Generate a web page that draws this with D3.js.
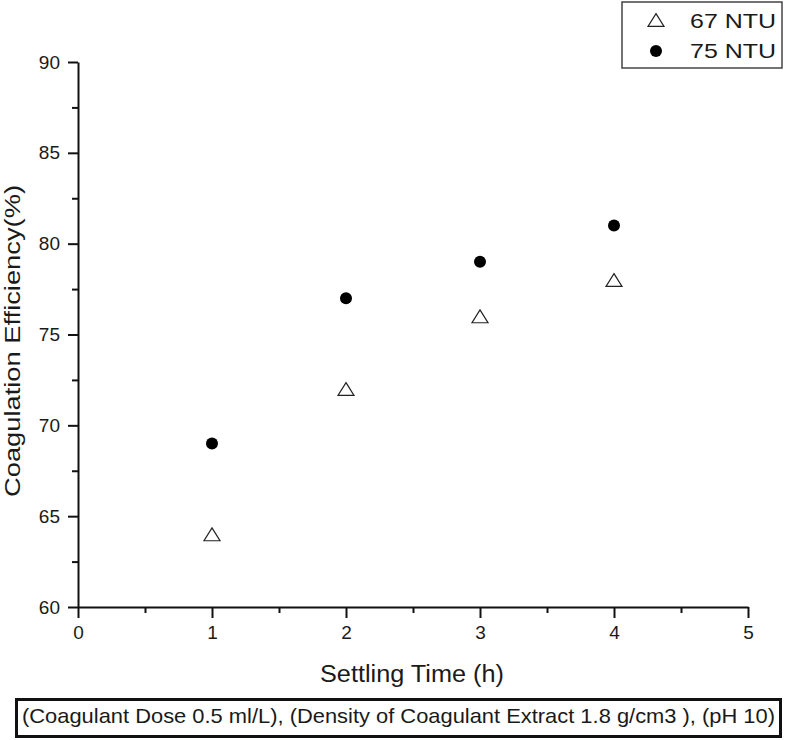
<!DOCTYPE html>
<html>
<head>
<meta charset="utf-8">
<script src="https://cdn.jsdelivr.net/npm/d3@7"></script>
<style>
  body { margin: 0; background: #fff; }
  text { font-family: "Liberation Sans", Arial, sans-serif; fill: #1a1a1a; }
</style>
</head>
<body>
<svg id="chart" width="787" height="740"></svg>
<script>
// data
const settlingTime = [1, 2, 3, 4];
const ntu67 = [64, 72, 76, 78];
const ntu75 = [69, 77, 79, 81];
const xTicks = [0, 1, 2, 3, 4, 5];
const yTicks = [60, 65, 70, 75, 80, 85, 90];
const seriesNames = ["67 NTU", "75 NTU"];

const svg = d3.select("#chart");
const W = 787, H = 740;

const x = d3.scaleLinear().domain([0, 5]).range([78, 748]);
const y = d3.scaleLinear().domain([60, 90]).range([607, 62]);

// minor ticks at the half steps
const xMinor = d3.range(0.5, 5, 1);
const yMinor = d3.range(62.5, 90, 5);

const gx = svg.append("g").attr("transform", `translate(0,${y(60)})`);
gx.append("g").call(d3.axisBottom(x).tickValues(xMinor).tickSize(6).tickFormat(""))
  .call(g => g.select(".domain").remove());
gx.append("g").call(d3.axisBottom(x).tickValues(xTicks).tickSize(11).tickSizeOuter(0)
  .tickPadding(8).tickFormat(d3.format("d")));

const gy = svg.append("g").attr("transform", `translate(${x(0)},0)`);
gy.append("g").call(d3.axisLeft(y).tickValues(yMinor).tickSize(6).tickFormat(""))
  .call(g => g.select(".domain").remove());
gy.append("g").call(d3.axisLeft(y).tickValues(yTicks).tickSize(10).tickSizeOuter(0)
  .tickPadding(8).tickFormat(d3.format("d")));

svg.selectAll(".domain, .tick line").attr("stroke", "#111").attr("stroke-width", 2);
svg.selectAll(".tick text").style("font-size", "19px");

// axis titles
svg.append("text")
  .attr("x", 320).attr("y", 682)
  .attr("textLength", 184).attr("lengthAdjust", "spacingAndGlyphs")
  .style("font-size", "23px")
  .text("Settling Time (h)");

svg.append("text")
  .attr("transform", "translate(20,341) rotate(-90)")
  .attr("x", -156)
  .attr("textLength", 312).attr("lengthAdjust", "spacingAndGlyphs")
  .style("font-size", "22px")
  .text("Coagulation Efficiency(%)");

// open triangle, bbox centred on the point
const triangle = {
  draw(ctx, size) {
    const w = Math.sqrt(size) * 1.25, h = w * 0.8;
    ctx.moveTo(0, -h / 2);
    ctx.lineTo(w / 2, h / 2);
    ctx.lineTo(-w / 2, h / 2);
    ctx.closePath();
  }
};
const tri = d3.symbol().type(triangle).size(164);

svg.append("g").selectAll("path")
  .data(settlingTime.map((t, i) => [t, ntu67[i]]))
  .join("path")
  .attr("d", tri)
  .attr("transform", d => `translate(${x(d[0])},${y(d[1])})`)
  .attr("fill", "#fff").attr("stroke", "#222").attr("stroke-width", 1.2);

svg.append("g").selectAll("circle")
  .data(settlingTime.map((t, i) => [t, ntu75[i]]))
  .join("circle")
  .attr("cx", d => x(d[0])).attr("cy", d => y(d[1]))
  .attr("r", 6).attr("fill", "#000");

// legend
const lg = svg.append("g");
lg.append("rect").attr("x", 622).attr("y", 2).attr("width", 160).attr("height", 66)
  .attr("fill", "#fff").attr("stroke", "#444").attr("stroke-width", 1.5);
lg.append("path").attr("d", tri).attr("transform", "translate(656,20)")
  .attr("fill", "#fff").attr("stroke", "#222").attr("stroke-width", 1.2);
lg.append("circle").attr("cx", 656).attr("cy", 51).attr("r", 6).attr("fill", "#000");
lg.selectAll("text.lab").data(seriesNames).join("text")
  .attr("class", "lab")
  .attr("x", 690).attr("y", (d, i) => 28 + i * 30)
  .attr("textLength", 86).attr("lengthAdjust", "spacingAndGlyphs")
  .style("font-size", "21px")
  .text(d => d);

// caption box
svg.append("rect").attr("x", 16.5).attr("y", 699.5).attr("width", 764).attr("height", 37)
  .attr("fill", "#fff").attr("stroke", "#111").attr("stroke-width", 3);
svg.append("text")
  .attr("x", 22).attr("y", 723)
  .attr("textLength", 753).attr("lengthAdjust", "spacingAndGlyphs")
  .style("font-size", "21px")
  .text("(Coagulant Dose 0.5 ml/L), (Density of Coagulant Extract 1.8 g/cm3 ), (pH 10)");
</script>
</body>
</html>
